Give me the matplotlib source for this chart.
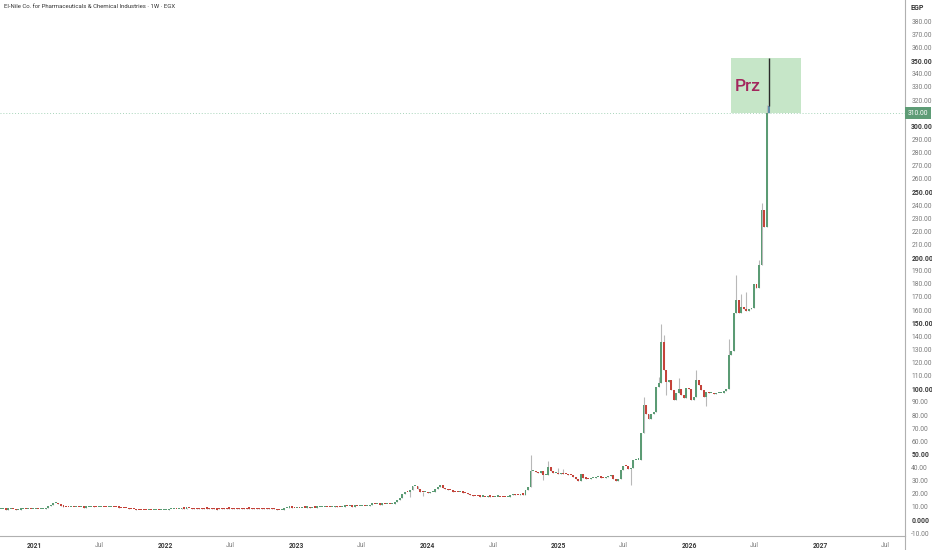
import numpy as np
import pandas as pd
import matplotlib
matplotlib.use("Agg")
import matplotlib.pyplot as plt
import matplotlib.transforms as mtransforms

title = "El-Nile Co. for Pharmaceuticals & Chemical Industries · 1W · EGX"
first_week = "2020-09-28"

# weekly closes
closes_2020 = [8.0, 8.1, 7.9, 8.0, 8.2, 8.0, 7.8, 7.9, 8.0, 8.1, 8.0, 8.1, 8.0, 8.1]
closes_2021 = [8.2, 8.1, 8.2, 8.3,
               9.2, 10.5, 11.6, 12.6, 12.9, 12.0, 10.8, 10.2,
               10.0, 9.8, 9.9, 9.7, 9.8, 9.6, 9.7, 9.5, 9.6, 9.8, 10.2, 9.9, 9.7, 9.9,
               10.1, 9.8, 9.6, 9.9, 10.0, 9.7, 9.6,
               9.5, 9.3, 9.0, 8.8, 8.5, 8.3, 8.0, 7.8, 7.7, 7.6,
               7.5, 7.4, 7.4, 7.3, 7.4, 7.5, 7.4, 7.5, 7.6]
closes_2022 = [7.8,
               8.0, 8.2, 8.4, 8.3, 8.6, 8.8, 8.7, 9.0, 8.8,
               8.1, 8.0, 8.2, 8.1, 8.0, 8.3, 8.1, 8.0, 8.2, 8.1, 7.9, 8.1, 8.2, 8.0, 8.1, 8.3, 8.1,
               8.0, 8.2, 8.1, 8.0, 8.2, 8.1, 8.0, 8.3, 8.1, 8.0, 8.2, 8.1, 8.0, 8.1, 8.2, 8.0, 8.1,
               7.6, 7.4, 7.5,
               9.3,
               9.4, 9.6, 9.5, 9.3]
closes_2023 = [9.4, 9.2, 9.5, 9.4, 9.6, 9.3, 9.5, 9.4, 9.6, 9.7,
               10.0, 10.2, 10.0, 9.9, 10.1, 10.3, 10.1, 10.0, 10.2, 10.4, 10.3, 10.5, 10.2, 10.4,
               10.3, 10.5, 10.6, 10.4, 10.5,
               11.8, 12.3, 11.9, 12.0, 11.8, 12.0, 11.9, 12.1, 12.0, 12.2,
               13.5, 15.2, 17.0, 19.5, 21.5, 21.0, 22.5,
               26.0, 26.2,
               23.8, 21.5, 21.0, 21.2]
closes_2024 = [20.8, 21.0, 21.5,
               23.5, 25.5, 26.3,
               24.5, 23.8, 23.0, 22.8,
               21.5, 21.2, 21.0, 21.3, 20.9, 20.6,
               20.0, 19.2, 18.5, 18.3,
               18.0, 17.8, 17.9, 17.7, 18.0, 17.8, 17.6, 17.8, 17.9, 17.7, 17.5, 17.3, 17.6,
               19.0, 19.8, 19.2, 19.0, 19.5, 19.3,
               22.5, 25.0,
               37.0,
               37.5, 36.5, 35.5, 37.0,
               34.0, 34.5,
               40.5,
               37.0, 35.5, 35.8]
closes_2025 = [35.2, 35.5, 35.0, 34.8, 34.5, 34.0,
               32.5, 31.0, 29.8,
               35.0,
               32.0, 31.5, 31.0, 31.8, 32.0, 32.5, 32.8, 32.3, 32.0, 32.5, 33.5, 34.3,
               31.5, 30.0,
               31.5, 38.0, 41.5, 41.0, 39.0, 40.0, 45.5, 46.0, 46.0,
               66.0, 87.5, 81.0, 77.0, 80.5, 82.0, 101.0, 104.5, 135.5,
               114.0, 105.5, 106.5, 99.0, 91.5, 96.5, 99.5, 95.5, 93.0, 100.5]
closes_2026 = [100.0, 91.5, 93.5, 106.5, 103.0, 99.0, 93.8, 97.5, 96.5, 96.5,
               96.0, 96.5, 96.5, 97.0, 98.5, 100.0,
               126.0, 128.5,
               157.5, 167.5, 158.0, 162.5, 160.5, 159.0, 160.5, 161.5, 179.5, 176.5,
               194.0, 236.0, 223.5, 310.0, 315.5]

# 2022 weeks that opened above the previous close
band_start = 76
band_opens = [9.4, 9.5, 9.3, 9.4, 9.5, 9.4, 9.6, 9.4, 9.3, 9.5, 9.4, 9.4, 9.5, 9.3, 9.4, 9.6, 9.4,
              9.5, 9.4, 9.3, 9.5, 9.4, 9.4, 9.6, 9.4, 9.5, 9.3, 9.4, 9.5, 9.4, 9.4, 9.5, 9.4, 9.3]

# visible wicks (week index -> price)
wick_highs = {21: 13.3, 37: 10.8, 211: 49.5, 218: 45.0, 222: 39.5, 224: 38.5,
              256: 93.5, 262: 109.0, 263: 149.5, 264: 141.0, 270: 108.0, 277: 114.5,
              290: 138.0, 293: 186.5, 295: 172.0, 297: 174.0, 302: 198.0, 303: 241.5,
              305: 316.0}
wick_lows = {163: 17.5, 168: 18.5, 216: 30.5, 251: 26.5, 265: 95.0, 281: 87.0,
             303: 208.0}

last_price = 310.0
prz_low, prz_high = 310.0, 352.0
prz_start, prz_end = "2026-04-25", "2026-11-07"
prz_label = "Prz"

GREEN = "#5b9b74"
RED = "#c4433a"
BLUE = "#5e90a8"
WICK = "#b8b8b8"
FONT = "Roboto"


def build_ohlc():
    close = np.array(closes_2020 + closes_2021 + closes_2022 + closes_2023
                     + closes_2024 + closes_2025 + closes_2026)
    open_ = np.concatenate([[close[0]], close[:-1]])
    open_[band_start:band_start + len(band_opens)] = band_opens
    high = np.maximum(open_, close)
    low = np.minimum(open_, close)
    for i, v in wick_highs.items():
        high[i] = max(high[i], v)
    for i, v in wick_lows.items():
        low[i] = min(low[i], v)
    dates = pd.date_range(first_week, periods=len(close), freq="7D")
    return dates, open_, high, low, close


def main():
    dates, o, h, l, c = build_ohlc()

    fig = plt.figure(figsize=(9.32, 5.5), dpi=100)
    ax = fig.add_axes([0, 14 / 550, 905 / 932, 536 / 550])

    # Prz zone
    ax.fill_between(pd.to_datetime([prz_start, prz_end]), prz_low, prz_high,
                    color="#c6e6c8", lw=0, zorder=1)
    ax.text(pd.Timestamp("2026-05-06"), 330, prz_label, fontsize=12.5,
            color="#a3265c", va="center", ha="left", zorder=2, family=FONT,
            fontweight="medium")

    ax.axhline(last_price, color="#a8d5ba", ls=(0, (1, 2)), lw=0.7, zorder=1)

    colors = [GREEN if cc >= oo else RED for oo, cc in zip(o, c)]
    colors[-1] = BLUE
    ax.vlines(dates, l, h, color=WICK, lw=0.8, zorder=3)
    bottom = np.minimum(o, c)
    height = np.maximum(np.abs(c - o), 0.9)
    ax.bar(dates, height, bottom=bottom, width=5.4, color=colors, lw=0, zorder=4)

    # drawing line from the last bar
    ax.vlines(dates[-1], c[-1], prz_high, color="#2a2a2a", lw=1.0, zorder=5)

    ax.set_xlim(pd.Timestamp("2020-09-26"), pd.Timestamp("2027-08-24"))
    ax.set_ylim(-12.2, 396.3)

    # price scale on the right
    ax.yaxis.tick_right()
    yt = np.arange(-10, 381, 10)
    ax.set_yticks(yt)
    ylabels = ["0.000" if v == 0 else ("" if v == last_price else f"{v:.2f}") for v in yt]
    ax.set_yticklabels(ylabels)
    for v, lab in zip(yt, ax.get_yticklabels()):
        lab.set_family(FONT)
        lab.set_fontsize(4.9)
        if v % 50 == 0:
            lab.set_fontweight("bold")
            lab.set_color("#3a3a3a")
        else:
            lab.set_color("#7a7a7a")
    ax.tick_params(axis="y", length=0, pad=4.5)

    xt = []
    xl = []
    for yr in range(2021, 2028):
        xt += [pd.Timestamp(f"{yr}-01-01"), pd.Timestamp(f"{yr}-07-01")]
        xl += [str(yr), "Jul"]
    ax.set_xticks(xt)
    ax.set_xticklabels(xl)
    for lab in ax.get_xticklabels():
        lab.set_family(FONT)
        lab.set_fontsize(4.8)
        if lab.get_text() == "Jul":
            lab.set_color("#7a7a7a")
        else:
            lab.set_fontweight("bold")
            lab.set_color("#3a3a3a")
    ax.tick_params(axis="x", length=0, pad=4)

    for s in ["top", "left"]:
        ax.spines[s].set_visible(False)
    ax.spines["right"].set_color("#b0b0b0")
    ax.spines["bottom"].set_color("#b0b0b0")
    ax.spines["right"].set_linewidth(0.8)
    ax.spines["bottom"].set_linewidth(0.8)

    # last price tag
    trans = mtransforms.blended_transform_factory(ax.transAxes, ax.transData)
    ax.text(1.003, last_price, f"{last_price:.2f}", transform=trans, fontsize=4.9,
            family=FONT, color="white", va="center", ha="left", clip_on=False, zorder=6,
            bbox=dict(boxstyle="square,pad=0.35", fc="#5e9c76", ec="none"))

    fig.add_artist(plt.Line2D([905 / 932, 905 / 932], [0, 14 / 550],
                              color="#b0b0b0", lw=0.8))
    fig.text(4 / 932, 1 - 7 / 550, title, fontsize=4.3, color="#333333", va="center",
             family=FONT)
    fig.text(917 / 932, 1 - 8 / 550, "EGP", fontsize=5, color="#333333",
             va="center", ha="center", family=FONT, fontweight="bold")

    fig.savefig("out.png", dpi=100)
    plt.close(fig)


if __name__ == "__main__":
    main()
